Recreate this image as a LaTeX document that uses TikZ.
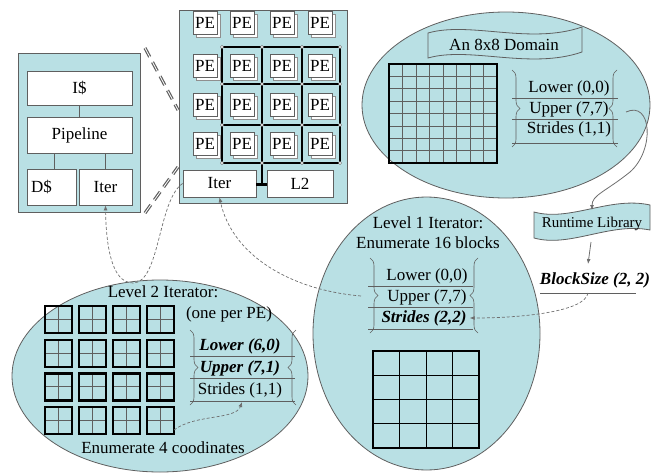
\documentclass[tikz,border=0pt]{standalone}
\usepackage{fontspec}
\setmainfont{Liberation Serif}
\usetikzlibrary{shapes.geometric,arrows.meta,decorations.pathreplacing,calc}
\definecolor{panelfill}{RGB}{185,224,228}
\definecolor{edge}{RGB}{95,95,95}
\definecolor{connc}{RGB}{110,110,110}
\begin{document}
\begin{tikzpicture}[x=1pt,y=-1pt,
  every node/.style={font=\fontsize{17}{20}\selectfont, inner sep=0pt},
  panel/.style={fill=panelfill, draw=edge, line width=0.8pt},
  wbox/.style={fill=white, draw=edge, line width=0.8pt},
  pebox/.style={wbox, minimum width=24, minimum height=23},
  peshadow/.style={fill=white, draw=edge!70, line width=0.6pt, minimum width=24, minimum height=23},
  link/.style={draw=edge, line width=0.8pt},
  gridthick/.style={draw=black, line width=2pt},
  gridthin/.style={draw=edge, line width=0.7pt},
  rule/.style={draw=edge, line width=0.8pt},
  brc/.style={draw=edge, line width=0.6pt, decorate, decoration={brace, amplitude=8pt, aspect=0.5}},
  conn/.style={draw=connc, line width=0.7pt, dash pattern=on 3pt off 2pt, -{Latex[length=5pt,width=4pt]}},
  solidconn/.style={draw=connc, line width=0.8pt, -{Latex[length=5pt,width=4pt]}},
  dbl/.style={draw=edge, line width=1.2pt, double=white, double distance=0.8pt, dash pattern=on 10pt off 6pt},
  bi/.style={font=\fontsize{17}{20}\selectfont\bfseries\itshape}
]
\useasboundingbox (0,0) rectangle (651,474);

% ---------- left panel (PE) ----------
\node[panel, minimum width=122, minimum height=159] (lpanel) at (79,132.5) {};
\node[wbox, minimum width=105, minimum height=34] (icache) at (79.5,88) {I\$};
\node[wbox, minimum width=105, minimum height=36] (pipe) at (79.5,135) {Pipeline};
\node[wbox, minimum width=49, minimum height=36, text width=41, align=left] (dcache) at (51.5,187) {D\$};
\node[wbox, minimum width=53, minimum height=36] (iterL) at (105.5,187) {Iter};
\draw[link] (icache.south) -- (pipe.north);
\draw[link] ([xshift=3pt]pipe.south -| dcache.north) -- ([xshift=3pt]dcache.north);
\draw[link] (pipe.south -| iterL.north) -- (iterL.north);

% ---------- middle panel (chip) ----------
\node[panel, minimum width=168, minimum height=193] (mpanel) at (263,106.5) {};
\foreach \gx in {222,262,302,340} \draw[gridthick] (\gx,47) -- (\gx,163);
\foreach \gy in {47,84,125,163} \draw[gridthick] (222,\gy) -- (340,\gy);
\node[wbox, minimum width=73, minimum height=27] (iterM) at (219.5,183.5) {Iter};
\node[wbox, minimum width=66, minimum height=27] (ltwo) at (300,183.5) {L2};
\coordinate (bus) at (262,163);
\coordinate (busend) at (262,184);
\draw[gridthick] (bus) -- (busend);
\draw[draw=black, line width=3pt] (iterM.east |- busend) -- (ltwo.west |- busend);
\foreach \gx in {222,262,302,340} \foreach \gy in {47,84,125,163}
  \filldraw[fill=white, draw=edge, line width=0.4pt] (\gx,\gy) circle (1.7pt);
\foreach \c/\px in {1/205,2/242,3/282,4/320} {
  \foreach \r/\py in {1/23,2/66,3/105,4/144} {
    \node[peshadow] at (\px+3,\py+3) {};
    \node[pebox] (pe\r\c) at (\px,\py) {PE};
  }
}

% zoom lines
\coordinate (za) at (145,48);
\coordinate (zb) at (178,110);
\coordinate (zc) at (145,213);
\coordinate (zd) at (178,167);
\draw[dbl] (za) -- (zb);
\draw[dbl] (zc) -- (zd);

% ---------- top right: domain ----------
\node[ellipse, panel, minimum width=288, minimum height=186] (dom) at (506,105) {};
\draw[panel] (428,33) .. controls (470,21) and (530,45) .. (582,27)
  -- (582,52) .. controls (530,70) and (470,46) .. (428,58) -- cycle;
\node (domtitle) at (504,45) {An 8x8 Domain};
\foreach \i in {1,...,7} {
  \draw[gridthin] ({389+13.5*\i},64) -- ({389+13.5*\i},163);
  \draw[gridthin] (389,{64+12.375*\i}) -- (497,{64+12.375*\i});
}
\draw[draw=black, line width=2.2pt] (389,64) rectangle (497,163);
\node (dlow) at (569,88) {Lower (0,0)};
\node (dup) at (569,109) {Upper (7,7)};
\node (dstr) at (569,129) {Strides (1,1)};
\draw[rule] (512,98) -- (618,98);
\draw[rule] (512,119) -- (618,119);
\draw[rule] (512,143) -- (618,143);
\draw[brc] (512,70) -- (512,147);
\draw[brc] (617,147) -- (617,70);
\coordinate (dombrace) at (626,112);

% ---------- runtime library ----------
\draw[panel] (534,212) .. controls (570,222) and (610,196) .. (650,205)
  -- (650,230) .. controls (610,222) and (570,248) .. (534,238) -- cycle;
\node[font=\fontsize{15}{18}\selectfont] (rt) at (592,224) {Runtime Library};
\coordinate (rttop) at (592,210);
\coordinate (rtbot) at (591,242);
\node[bi] (bs) at (595,280) {BlockSize (2, 2)};
\draw[rule] (540,293) -- (636,293);
\coordinate (bstop) at (588,264);
\coordinate (bsline) at (588,293);
\draw[solidconn] (dombrace) .. controls (652,100) and (655,150) .. (630,172)
  .. controls (605,192) and (592,195) .. (rttop);
\draw[solidconn] (rtbot) -- (bstop);

% ---------- level 1 ----------
\node[ellipse, panel, minimum width=227, minimum height=273] (lv1) at (426.5,333.5) {};
\node (l1a) at (428,223) {Level 1 Iterator:};
\node (l1b) at (428,243) {Enumerate 16 blocks};
\node (l1low) at (427,276) {Lower (0,0)};
\node (l1up) at (427,297) {Upper (7,7)};
\node[bi] (s22) at (424,318) {Strides (2,2)};
\draw[rule] (368,286) -- (473,286);
\draw[rule] (368,307) -- (473,307);
\draw[rule] (368,329) -- (473,329);
\draw[brc] (370,258) -- (370,333);
\draw[brc] (478,333) -- (478,258);
\coordinate (l1brace) at (361,296);
\foreach \i in {1,2,3} {
  \draw[draw=black, line width=0.9pt] ({373+26.5*\i},351) -- ({373+26.5*\i},448);
  \draw[draw=black, line width=0.9pt] (373,{351+24.25*\i}) -- (479,{351+24.25*\i});
}
\draw[draw=black, line width=2.5pt] (373,351) rectangle (479,448);

% ---------- level 2 ----------
\node[ellipse, panel, minimum width=296, minimum height=192] (lv2) at (160,376) {};
\node (l2a) at (163,292) {Level 2 Iterator:};
\node (l2b) at (229,314) {(one per PE)};
\node[bi] (l2low) at (240,346) {Lower (6,0)};
\node[bi] (l2up) at (240,368) {Upper (7,1)};
\node (l2str) at (240,390) {Strides (1,1)};
\draw[rule] (190,356) -- (295,356);
\draw[rule] (190,378) -- (295,378);
\draw[rule] (190,401) -- (295,401);
\draw[brc] (190,330) -- (190,405);
\draw[brc] (296,405) -- (296,330);
\foreach \i in {0,...,3} {
  \foreach \j in {0,...,3} {
    \draw[gridthin, line width=0.9pt] ({58.5+34*\i},{306+33.7*\j}) -- ++(0,27)
      ({45+34*\i},{319.5+33.7*\j}) -- ++(27,0);
    \draw[draw=black, line width=2.2pt] ({45+34*\i},{306+33.7*\j}) rectangle ++(27,27);
  }
}
\node (l2c) at (163,448) {Enumerate 4 coodinates};
\coordinate (gcorner) at (174,430);
\coordinate (l2target) at (242,402);

% ---------- connectors ----------
\draw[conn] (iterM.west) .. controls (158,200) and (160,283) .. (133,283)
  .. controls (110,283) and (106,240) .. (iterL.south);
\draw[conn] (l1brace) .. controls (290,290) and (232,255) .. (iterM.south);
\draw[conn] (bsline) .. controls (585,312) and (520,318) .. ([xshift=3pt]s22.east);
\draw[conn] (gcorner) .. controls (195,414) and (236,420) .. (l2target);
\end{tikzpicture}
\end{document}
